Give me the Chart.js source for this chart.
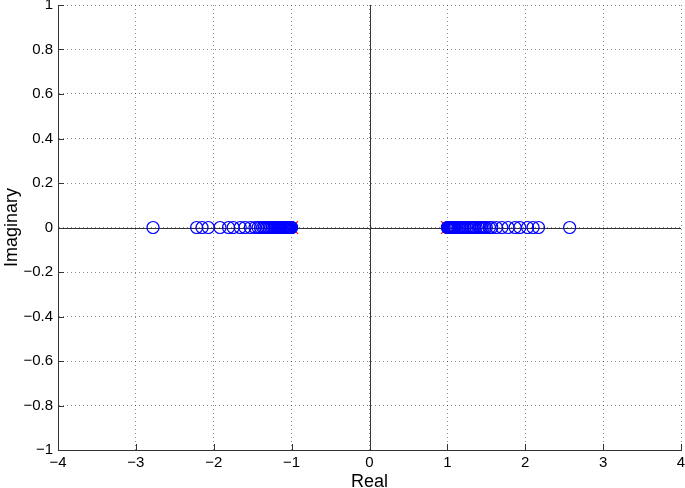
<!DOCTYPE html>
<html>
<head>
<meta charset="utf-8">
<script src="https://cdn.jsdelivr.net/npm/chart.js@4/dist/chart.umd.min.js"></script>
<style>
  html, body { margin: 0; padding: 0; background: #fff; }
  #wrap { width: 685px; height: 488px; }
</style>
</head>
<body>
<div id="wrap"><canvas id="pzChart" width="685" height="488"></canvas></div>
<script>
// zeros (circles) and poles (crosses), all on the real axis
const zerosLeft = [-2.78, -2.22, -2.15, -2.07, -1.92, -1.81, -1.75, -1.66, -1.6, -1.53,
    -1.47, -1.43, -1.4, -1.37, -1.35, -1.33, -1.31, -1.29, -1.27, -1.25, -1.23, -1.21,
    -1.19, -1.17, -1.16, -1.15, -1.14, -1.13, -1.12, -1.11, -1.1, -1.09, -1.08, -1.07,
    -1.06, -1.05, -1.045, -1.04, -1.035, -1.03, -1.025, -1.02, -1.015, -1.01, -1.005, -1.0];
const zerosRight = [1.0, 1.005, 1.01, 1.015, 1.02, 1.025, 1.03, 1.04, 1.05, 1.06, 1.07,
    1.08, 1.09, 1.1, 1.12, 1.14, 1.16, 1.18, 1.2, 1.23, 1.26, 1.29, 1.31, 1.33, 1.35,
    1.37, 1.4, 1.42, 1.44, 1.46, 1.48, 1.5, 1.54, 1.57, 1.63, 1.7, 1.78, 1.87, 1.93,
    2.03, 2.1, 2.17, 2.57];
const poles = [-1.0, 1.0];
const xTicks = [-4, -3, -2, -1, 0, 1, 2, 3, 4];
const yTicks = [-1, -0.8, -0.6, -0.4, -0.2, 0, 0.2, 0.4, 0.6, 0.8, 1];

const FONT = 'Liberation Sans, Arial, Helvetica, sans-serif';

function fmt(v) {
    const s = String(Math.round(v * 10) / 10);
    return s.replace('-', '\u2212');
}

// axis lines through the origin and inward tick marks (MATLAB look)
const axesPlugin = {
    id: 'axesPlugin',
    beforeDatasetsDraw(chart) {
        const { ctx, chartArea: a, scales: { x, y } } = chart;
        ctx.save();
        ctx.strokeStyle = '#333';
        ctx.lineWidth = 1;
        const x0 = Math.round(x.getPixelForValue(0)) + 0.5;
        const y0 = Math.round(y.getPixelForValue(0)) + 0.5;
        ctx.beginPath();
        ctx.moveTo(x0, a.top); ctx.lineTo(x0, a.bottom);
        ctx.moveTo(a.left, y0); ctx.lineTo(a.right, y0);
        xTicks.forEach(t => {
            const px = Math.round(x.getPixelForValue(t)) + 0.5;
            ctx.moveTo(px, a.bottom); ctx.lineTo(px, a.bottom - 6);
        });
        yTicks.forEach(t => {
            const py = Math.round(y.getPixelForValue(t)) + 0.5;
            ctx.moveTo(a.left, py); ctx.lineTo(a.left + 6, py);
        });
        ctx.stroke();
        ctx.restore();
    }
};

const ctx = document.getElementById('pzChart').getContext('2d');
new Chart(ctx, {
    type: 'scatter',
    data: {
        datasets: [
            {
                label: 'poles',
                order: 1,
                data: poles.map(v => ({ x: v, y: 0 })),
                pointStyle: 'crossRot',
                pointRadius: 9,
                borderColor: '#ff0000',
                borderWidth: 1.2,
                backgroundColor: 'transparent'
            },
            {
                label: 'zeros',
                order: 0,
                data: zerosLeft.concat(zerosRight).map(v => ({ x: v, y: 0 })),
                pointStyle: 'circle',
                pointRadius: 6,
                borderColor: '#0000ff',
                borderWidth: 1.2,
                backgroundColor: 'transparent'
            }
        ]
    },
    options: {
        responsive: false,
        animation: false,
        layout: { autoPadding: false, padding: { left: 0, top: 5, right: 4, bottom: 0 } },
        plugins: {
            legend: { display: false },
            tooltip: { enabled: false }
        },
        scales: {
            x: {
                type: 'linear',
                min: -4,
                max: 4,
                afterBuildTicks: s => { s.ticks = xTicks.map(v => ({ value: v })); },
                afterFit: s => { s.height = 38; s.paddingLeft = 0; s.paddingRight = 0; },
                ticks: {
                    color: '#000',
                    padding: 4,
                    font: { family: FONT, size: 15 },
                    callback: v => fmt(v)
                },
                grid: {
                    color: 'rgba(0,0,0,0.45)',
                    drawTicks: false
                },
                border: { display: true, color: '#333', width: 1, dash: [1, 3] },
                title: {
                    display: true,
                    text: 'Real',
                    color: '#000',
                    font: { family: FONT, size: 18, lineHeight: 0.7 },
                    padding: 0
                }
            },
            y: {
                type: 'linear',
                min: -1,
                max: 1,
                afterBuildTicks: s => { s.ticks = yTicks.map(v => ({ value: v })); },
                afterFit: s => { s.width = 58; s.paddingTop = 0; s.paddingBottom = 0; },
                ticks: {
                    color: '#000',
                    padding: 5,
                    font: { family: FONT, size: 15, lineHeight: 0.6 },
                    callback: v => fmt(v)
                },
                grid: {
                    color: 'rgba(0,0,0,0.45)',
                    drawTicks: false
                },
                border: { display: true, color: '#333', width: 1, dash: [1, 3] },
                title: {
                    display: true,
                    text: 'Imaginary',
                    color: '#000',
                    font: { family: FONT, size: 18, lineHeight: 1.2 },
                    padding: { top: 1, bottom: 0 }
                }
            }
        }
    },
    plugins: [axesPlugin]
});
</script>
</body>
</html>
